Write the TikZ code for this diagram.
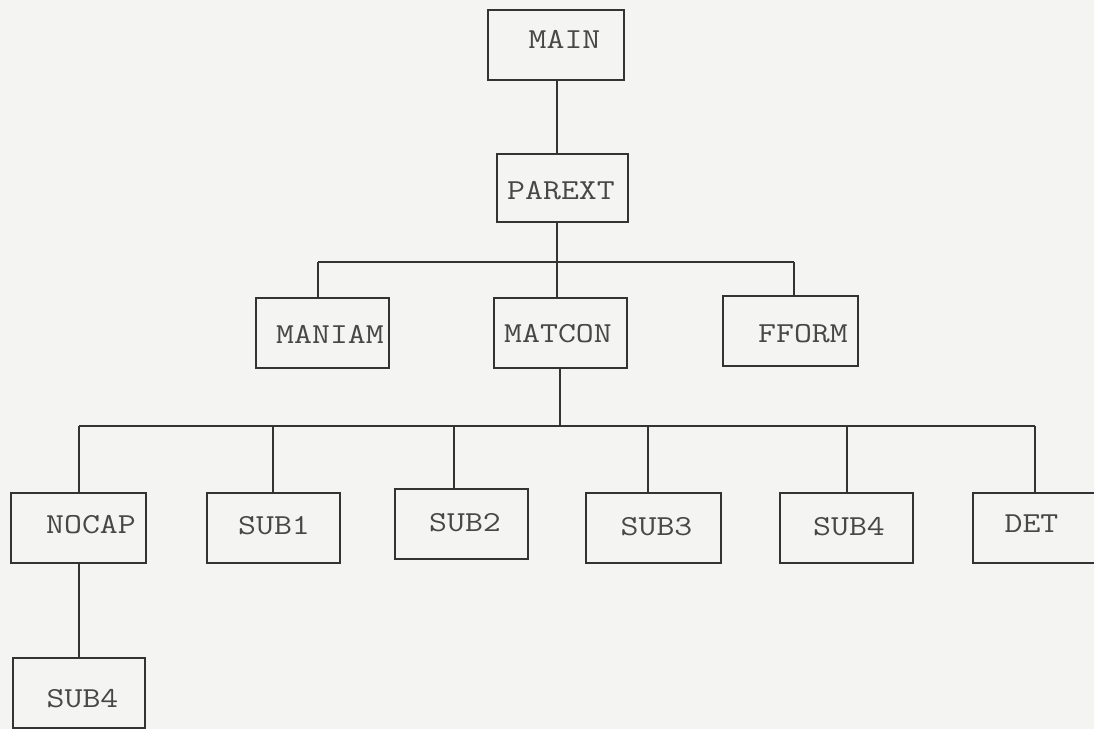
\documentclass[tikz,border=0pt]{standalone}
\usepackage{fontspec}
\usepackage{graphicx}
\newcommand\stretchtxt[1]{\scalebox{1.2}[1]{#1}}
\definecolor{ink}{HTML}{333333}
\definecolor{paper}{HTML}{F4F4F2}
\tikzset{
  box/.style={draw=ink, line width=2.3pt, minimum width=133pt, minimum height=70pt, inner sep=0pt},
  lbl/.style={font=\ttfamily\fontsize{29}{29}\selectfont, text=ink!90, inner sep=0pt},
  conn/.style={draw=ink, line width=2.2pt}
}
\begin{document}
\begin{tikzpicture}[x=1pt, y=-1pt]
\useasboundingbox (0,0) rectangle (1094,729);
\fill[paper] (0,0) rectangle (1094,729);

% boxes
\node[box, minimum width=136pt] (main)   at (556,45) {};
\node[box, minimum width=131pt, minimum height=68pt] (parext) at (562.5,188) {};
\node[box] (maniam) at (322.5,333) {};
\node[box] (matcon) at (560.5,333) {};
\node[box, minimum width=135pt] (fform)  at (790.5,331) {};
\node[box, minimum width=135pt] (nocap)  at (78.5,528) {};
\node[box] (sub1)   at (273.5,528) {};
\node[box] (sub2)   at (461.5,524) {};
\node[box, minimum width=135pt] (sub3)   at (653.5,528) {};
\node[box] (sub4)   at (846.5,528) {};
\node[box, minimum width=134pt] (det)    at (1040,528) {};
\node[box, minimum width=132pt] (sub4b)  at (79,693) {};

% labels
\node[lbl] (tmain)   at (564.5,39.5) {\stretchtxt{MAIN}};
\node[lbl] (tparext) at (561,191) {\stretchtxt{PAREXT}};
\node[lbl] (tmaniam) at (330,334) {\stretchtxt{MANIAM}};
\node[lbl] (tmatcon) at (558,334) {\stretchtxt{MATCON}};
\node[lbl] (tfform)  at (803,334) {\stretchtxt{FFORM}};
\node[lbl] (tnocap)  at (91,525) {\stretchtxt{NOCAP}};
\node[lbl] (tsub1)   at (274,525.5) {\stretchtxt{SUB1}};
\node[lbl] (tsub2)   at (465,523) {\stretchtxt{SUB2}};
\node[lbl] (tsub3)   at (656.5,526.5) {\stretchtxt{SUB3}};
\node[lbl] (tsub4)   at (849,527) {\stretchtxt{SUB4}};
\node[lbl] (tdet)    at (1031.5,524) {\stretchtxt{DET}};
\node[lbl] (tsub4b)  at (82.5,699) {\stretchtxt{SUB4}};

% first level bus
\coordinate (b1)  at (557,262);
\coordinate (b1l) at (318,262);
\coordinate (b1r) at (794,262);
\draw[conn] (b1 |- main.south) -- (b1 |- parext.north);
\draw[conn] (b1 |- parext.south) -- (b1);
\draw[conn] (b1l) -- (b1r);
\draw[conn] (b1l) -- (b1l |- maniam.north);
\draw[conn] (b1) -- (b1 |- matcon.north);
\draw[conn] (b1r) -- (b1r |- fform.north);

% second level bus
\coordinate (b2) at (560,426);
\coordinate (j1) at (79,426);
\coordinate (j2) at (273,426);
\coordinate (j3) at (454,426);
\coordinate (j4) at (648,426);
\coordinate (j5) at (847,426);
\coordinate (j6) at (1035,426);
\draw[conn] (b2 |- matcon.south) -- (b2);
\draw[conn] (j1) -- (j6);
\draw[conn] (j1) -- (j1 |- nocap.north);
\draw[conn] (j2) -- (j2 |- sub1.north);
\draw[conn] (j3) -- (j3 |- sub2.north);
\draw[conn] (j4) -- (j4 |- sub3.north);
\draw[conn] (j5) -- (j5 |- sub4.north);
\draw[conn] (j6) -- (j6 |- det.north);

% third level
\draw[conn] (j1 |- nocap.south) -- (j1 |- sub4b.north);
\end{tikzpicture}
\end{document}
